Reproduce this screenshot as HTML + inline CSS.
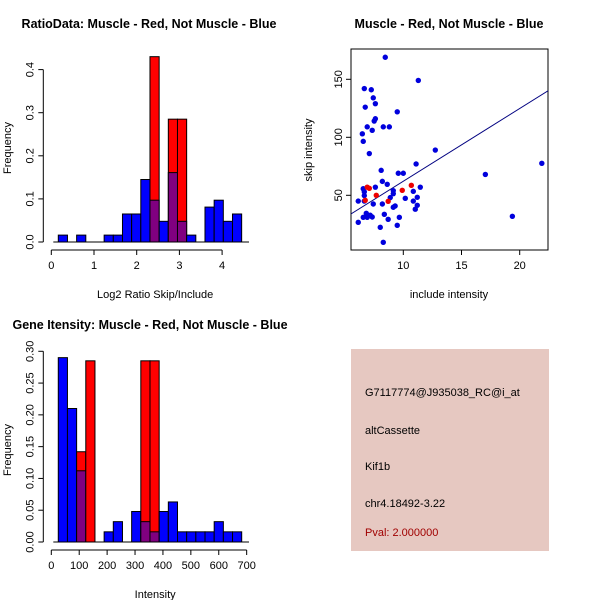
<!DOCTYPE html>
<html><head><meta charset="utf-8"><style>
body{margin:0;background:#fff;}
svg{display:block;font-family:"Liberation Sans",sans-serif;}
</style></head><body>
<svg id="s" width="600" height="600" viewBox="0 0 600 600">
<rect width="600" height="600" fill="#fff"/>
<text x="149" y="28" text-anchor="middle" font-size="12.5" font-weight="bold">RatioData: Muscle - Red, Not Muscle - Blue</text>
<text x="449" y="28" text-anchor="middle" font-size="12.5" font-weight="bold">Muscle - Red, Not Muscle - Blue</text>
<text x="150" y="329" text-anchor="middle" font-size="12.5" font-weight="bold">Gene Itensity: Muscle - Red, Not Muscle - Blue</text>
<g id="g1"></g>
<g id="g2"></g>
<g id="g3"></g>
<rect x="351" y="349" width="198" height="202" fill="#e6c8c1"/>
<g font-size="11">
<text x="365" y="396">G7117774@J935038_RC@i_at</text>
<text x="365" y="434">altCassette</text>
<text x="365" y="470">Kif1b</text>
<text x="365" y="507">chr4.18492-3.22</text>
<text x="365" y="536" fill="#a00000">Pval: 2.000000</text>
</g>
</svg>
<script>
// Ratio histogram data
const ratioBinStart = 0.164, ratioBinWidth = 0.2147;
const ratioBlue = [0.016,0,0.016,0,0,0.016,0.016,0.065,0.065,0.145,0.097,0.048,0.161,0.048,0.016,0,0.081,0.097,0.048,0.065];
const ratioRed  = [0,0,0,0,0,0,0,0,0,0,0.43,0,0.285,0.285,0,0,0,0,0,0];
const ratioXTicks = [0,1,2,3,4];
const ratioYTicks = ["0.0","0.1","0.2","0.3","0.4"];
// Intensity histogram data
const intBinStart = 25, intBinWidth = 32.86;
const intBlue = [0.29,0.21,0.112,0,0,0.016,0.032,0,0.048,0.032,0.016,0.048,0.063,0.016,0.016,0.016,0.016,0.032,0.016,0.016];
const intRed  = [0,0,0.142,0.285,0,0,0,0,0,0.285,0.285,0,0,0,0,0,0,0,0,0];
const intXTicks = [0,100,200,300,400,500,600,700];
const intYTicks = ["0.00","0.05","0.10","0.15","0.20","0.25","0.30"];
// Scatter data
const blueX = [8.45,11.29,6.65,7.25,7.42,7.6,6.73,9.48,7.6,7.5,6.48,6.9,7.33,8.28,8.8,6.56,7.08,12.75,11.1,21.9,17.05,8.1,9.57,10,8.2,8.62,6.56,6.65,7.6,11.46,9.14,9.14,10.86,6.65,11.2,10.17,8.88,6.13,6.65,10.86,8.2,7.42,11.2,11.03,9.3,9.14,6.82,8.37,7.16,7.33,6.56,6.9,9.66,8.7,6.13,9.48,8.02,8.28,19.37];
const blueY = [169,149,142,141,134,129,126,122,116,114,103,109,106,109,109,96.5,86,89,77,77.6,68,71.5,69,69,62,59.5,55.7,53,57,57,54,51.4,53.4,49.7,48.3,47.4,48,45,45,45,42.5,42.5,41.4,38,40.8,39.7,34.5,33.6,32.8,31.3,31,31,31,29.3,26.7,24.1,22.4,9.5,31.9];
const redX = [6.9,7.08,7.68,6.73,8.7,9.91,10.69];
const redY = [57,56,50,45.7,44.8,54.3,58.6];
const fitSlope = 6.27, fitIntercept = -0.58;
const scXTicks = [10,15,20];
const scYTicks = [50,100,150];

const NS="http://www.w3.org/2000/svg";
function mk(p,tag,a){const e=document.createElementNS(NS,tag);for(const k in a)e.setAttribute(k,a[k]);p.appendChild(e);return e;}
function txt(p,x,y,s,a){const e=mk(p,'text',Object.assign({x:x,y:y,'font-size':11,'text-anchor':'middle'},a||{}));e.textContent=s;return e;}

function hist(g,o){
  const sx=v=>o.x0+(v-o.d0)*o.kx, sy=v=>o.y0-v*o.ky;
  for(let i=0;i<o.blue.length;i++){
    const a=o.bs+i*o.bw, b=a+o.bw, bl=o.blue[i], rd=o.red[i];
    const x=sx(a), w=sx(b)-sx(a);
    if(rd>0){const r=mk(g,'rect',{x:x,y:sy(rd),width:w,height:sy(0)-sy(rd),fill:'#ff0000',stroke:'#000','stroke-width':1});
      
      }
    if(bl>0){const ov=rd>0;const h=ov?Math.min(bl,rd):bl;
      const r=mk(g,'rect',{x:x,y:sy(h),width:w,height:sy(0)-sy(h),fill:ov?'#800080':'#0000ff',stroke:'#000','stroke-width':1});
      
      }
  }
  const xa=o.y0+8;
  mk(g,'line',{x1:sx(o.xt[0]),x2:sx(o.xt[o.xt.length-1]),y1:xa,y2:xa,stroke:'#000'});
  o.xt.forEach(t=>{mk(g,'line',{x1:sx(t),x2:sx(t),y1:xa,y2:xa+5,stroke:'#000'});
    const l=txt(g,sx(t),xa+19,String(t));});
  const ya=o.x0-8, yv=o.yt.map(Number);
  mk(g,'line',{x1:ya,x2:ya,y1:sy(yv[0]),y2:sy(yv[yv.length-1]),stroke:'#000'});
  o.yt.forEach((t,i)=>{const y=sy(yv[i]);mk(g,'line',{x1:ya,x2:ya-5,y1:y,y2:y,stroke:'#000'});
    const l=txt(g,0,0,t,{transform:`translate(${ya-10},${y}) rotate(-90)`});});
  mk(g,'line',{x1:o.x0+2,x2:o.xe,y1:o.y0,y2:o.y0,stroke:'#000'});
  const xl=txt(g,(o.x0+o.xe)/2+5,o.y0+56,o.xlab);
  const yl=txt(g,0,0,'Frequency',{transform:`translate(11,${o.ylc}) rotate(-90)`});
}
hist(document.getElementById('g1'),{x0:51.3,d0:0,kx:42.7,y0:242,ky:431,bs:ratioBinStart,bw:ratioBinWidth,blue:ratioBlue,red:ratioRed,xt:ratioXTicks,yt:ratioYTicks,xe:249,xlab:'Log2 Ratio Skip/Include',ylc:148});
hist(document.getElementById('g3'),{x0:51.3,d0:0,kx:0.2791,y0:542,ky:635.7,bs:intBinStart,bw:intBinWidth,blue:intBlue,red:intRed,xt:intXTicks,yt:intYTicks,xe:249,xlab:'Intensity',ylc:450});

(function(){
  const g=document.getElementById('g2');
  const L=351,R=548,T=49,B=250;
  const sx=v=>403.3+(v-10)*11.64, sy=v=>195.3-(v-50)*1.16;
  mk(g,'rect',{x:L,y:T,width:R-L,height:B-T,fill:'none',stroke:'#000'});
  const cp=mk(g,'clipPath',{id:'cp'});mk(cp,'rect',{x:L,y:T,width:R-L,height:B-T});
  const x1=5.5,x2=22.5;
  const ln=mk(g,'line',{x1:sx(x1),y1:sy(fitIntercept+fitSlope*x1),x2:sx(x2),y2:sy(fitIntercept+fitSlope*x2),stroke:'#000080','stroke-width':1,'clip-path':'url(#cp)'});
  
  
  blueX.forEach((x,i)=>{const c=mk(g,'circle',{cx:sx(x),cy:sy(blueY[i]),r:2.7,fill:'#0000dd'});
    
    });
  redX.forEach((x,i)=>{const c=mk(g,'circle',{cx:sx(x),cy:sy(redY[i]),r:2.7,fill:'#ee0000'});
    
    });
  scXTicks.forEach(t=>{mk(g,'line',{x1:sx(t),x2:sx(t),y1:B,y2:B+5,stroke:'#000'});
    const l=txt(g,sx(t),B+19,String(t));});
  scYTicks.forEach(t=>{mk(g,'line',{x1:L,x2:L-5,y1:sy(t),y2:sy(t),stroke:'#000'});
    const l=txt(g,0,0,String(t),{transform:`translate(${L-9},${sy(t)}) rotate(-90)`});});
  const xl=txt(g,449,298,'include intensity');
  const yl=txt(g,0,0,'skip intensity',{transform:'translate(312,150) rotate(-90)'});
})();
</script>
</body></html>
